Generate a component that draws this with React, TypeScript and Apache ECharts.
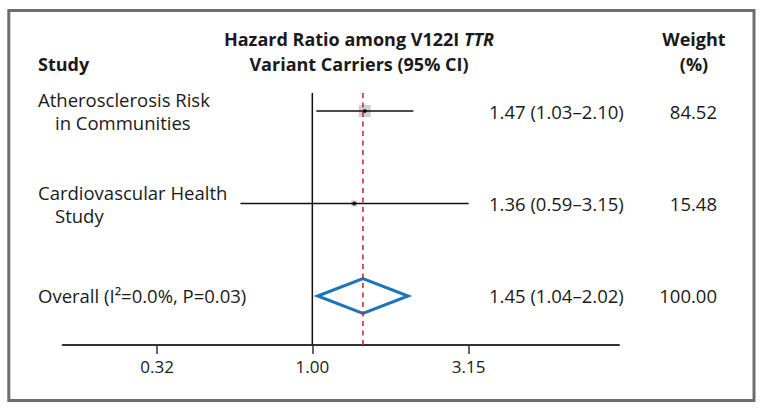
import React, { useEffect, useRef } from "react";
import * as echarts from "echarts";

// ---- data ----
const studyLines: string[][] = [
  ["Atherosclerosis Risk", "in Communities"],
  ["Cardiovascular Health", "Study"],
];
const studyEst = [1.47, 1.36];
const studyLow = [1.03, 0.59];
const studyHigh = [2.1, 3.15];
const studyWeight = [84.52, 15.48];
const studyRow = [3, 2];

const overallLabel = "Overall (I²=0.0%, P=0.03)";
const overallEst = 1.45;
const overallLow = 1.04;
const overallHigh = 2.02;
const overallWeight = 100.0;
const overallRow = 1;

const tickValues = [0.32, 1.0, 3.15];
const nullValue = 1.0;

const FONT = "'Open Sans', sans-serif";
const TXT = "#1a1a1a";

const ciText = (e: number, l: number, h: number) =>
  `${e.toFixed(2)} (${l.toFixed(2)}–${h.toFixed(2)})`;

export default function App() {
  const ref = useRef<HTMLDivElement>(null);
  useEffect(() => {
    const chart = echarts.init(ref.current!, null, { renderer: "svg" });
    const yMin = 0.47;
    const yMax = 3.195;
    const option: any = {
      animation: false,
      backgroundColor: "#ffffff",
      grid: { left: 62.7, top: 93, width: 556.3, height: 252, containLabel: false },
      xAxis: {
        type: "log",
        logBase: 10,
        min: 0.16,
        max: 9.5,
        splitLine: { show: false },
        axisLine: { show: true, lineStyle: { color: "#333333", width: 2 } },
        axisTick: {
          show: true,
          customValues: tickValues,
          length: 9,
          lineStyle: { color: "#333333", width: 1.5 },
        },
        axisLabel: {
          customValues: tickValues,
          formatter: (v: number) => Number(v).toFixed(2),
          margin: 13,
          fontSize: 17,
          fontFamily: FONT,
          color: TXT,
        },
      },
      yAxis: { type: "value", min: yMin, max: yMax, show: false },
      series: [
        {
          type: "line",
          data: [
            [nullValue, yMin],
            [nullValue, yMax],
          ],
          symbol: "none",
          lineStyle: { color: "#111111", width: 1.5 },
          z: 2,
        },
        {
          type: "line",
          data: [
            [overallEst, yMin],
            [overallEst, yMax + 0.04],
          ],
          clip: false,
          symbol: "none",
          lineStyle: { color: "#c8202a", width: 1.5, type: [5, 4.5] },
          z: 6,
        },
        ...studyEst.map((_, i) => ({
          type: "line",
          data: [
            [studyLow[i], studyRow[i]],
            [studyHigh[i], studyRow[i]],
          ],
          symbol: "none",
          lineStyle: { color: "#111111", width: 1.5 },
          z: 4,
        })),
        {
          type: "scatter",
          symbol: "rect",
          data: studyEst.map((e, i) => ({
            value: [e, studyRow[i]],
            symbolSize: Math.max(6, 13 * Math.sqrt(studyWeight[i] / 100)),
          })),
          itemStyle: { color: "#c4c4c4" },
          z: 3,
        },
        {
          type: "scatter",
          symbol: "circle",
          symbolSize: 4,
          data: studyEst.map((e, i) => [e, studyRow[i]]),
          itemStyle: { color: "#000000" },
          z: 7,
        },
        {
          type: "custom",
          coordinateSystem: "cartesian2d",
          data: [[overallLow, overallEst, overallHigh, overallRow]],
          encode: { x: [0, 1, 2], y: 3 },
          renderItem: (_p: any, api: any) => {
            const lo = api.coord([api.value(0), api.value(3)]);
            const mid = api.coord([api.value(1), api.value(3)]);
            const hi = api.coord([api.value(2), api.value(3)]);
            const half = 17.5;
            return {
              type: "polygon",
              shape: {
                points: [
                  [lo[0], lo[1]],
                  [mid[0], mid[1] - half],
                  [hi[0], hi[1]],
                  [mid[0], mid[1] + half],
                ],
              },
              style: { fill: "none", stroke: "#1b75bb", lineWidth: 3, lineJoin: "miter" },
            };
          },
          z: 5,
        },
      ],
    };
    chart.setOption(option);

    const py = (row: number) => (chart.convertToPixel({ gridIndex: 0 }, [1, row]) as number[])[1];
    const txt = (text: string, x: number, y: number, extra: any = {}) => ({
      type: "text",
      x,
      y,
      style: {
        text,
        fontSize: 18.5,
        fontFamily: FONT,
        fill: TXT,
        align: "left",
        verticalAlign: "middle",
        ...extra,
      },
    });
    const bold = { fontWeight: "bold", fontSize: 18 };
    const g: any[] = [
      {
        type: "rect",
        shape: { x: 8.8, y: 10.5, width: 745.2, height: 390 },
        style: { fill: "none", stroke: "#6e6e6e", lineWidth: 3 },
        z: -1,
      },
      txt("Study", 38, 64, bold),
      txt("Hazard Ratio among V122I {i|TTR}", 359, 39, {
        ...bold,
        align: "center",
        rich: { i: { fontStyle: "italic", fontWeight: "bold", fontSize: 18, fontFamily: FONT, fill: TXT } },
      }),
      txt("Variant Carriers (95% CI)", 359, 64, { ...bold, align: "center" }),
      txt("Weight", 694, 39, { ...bold, align: "center" }),
      txt("(%)", 694, 64, { ...bold, align: "center" }),
    ];
    studyLines.forEach((lines, i) => {
      const y = py(studyRow[i]);
      g.push(txt(lines[0], 38, y - 11.5));
      g.push(txt(lines[1], 55, y + 11.5));
      g.push(txt(ciText(studyEst[i], studyLow[i], studyHigh[i]), 489, y));
      g.push(txt(studyWeight[i].toFixed(2), 717, y, { align: "right" }));
    });
    const yo = py(overallRow);
    g.push(txt(overallLabel, 38, yo));
    g.push(txt(ciText(overallEst, overallLow, overallHigh), 489, yo));
    g.push(txt(overallWeight.toFixed(2), 717, yo, { align: "right" }));
    chart.setOption({ graphic: g });

    return () => chart.dispose();
  }, []);
  return (
    <div
      ref={ref}
      style={{ position: "absolute", left: 0, top: 0, width: 764, height: 410, background: "#fff" }}
    />
  );
}
